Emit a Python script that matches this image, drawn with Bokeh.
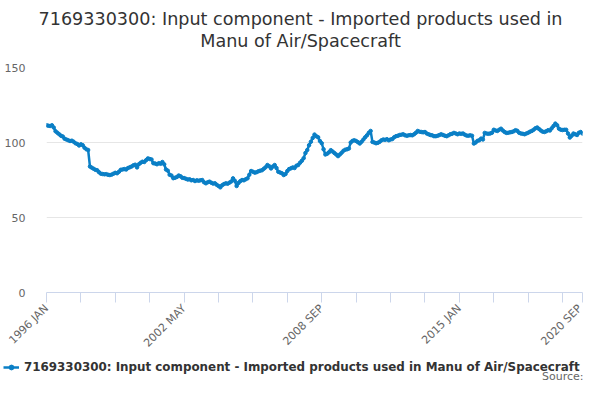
import math
from bokeh.plotting import figure
from bokeh.layouts import column
from bokeh.models import Legend, LegendItem, FixedTicker, Range1d, Label
from bokeh.embed import file_html
from bokeh.resources import INLINE

MONTHS = ["JAN", "FEB", "MAR", "APR", "MAY", "JUN", "JUL", "AUG", "SEP", "OCT", "NOV", "DEC"]

v1996 = [111.5, 111.2, 111.0, 111.5, 110.0, 107.5, 106.5, 105.5, 104.5, 104.0, 102.5, 102.0]
v1997 = [101.5, 101.0, 101.2, 100.5, 99.5, 99.0, 98.0, 98.8, 98.2, 96.5, 95.5, 95.0]
v1998 = [84.0, 83.2, 82.5, 81.8, 81.5, 80.2, 79.2, 79.0, 78.8, 78.9, 78.5, 78.3]
v1999 = [78.6, 79.2, 79.8, 79.5, 80.5, 81.8, 82.0, 82.3, 82.0, 83.0, 83.5, 84.0]
v2000 = [84.8, 85.2, 83.4, 85.5, 86.5, 87.2, 87.0, 88.2, 89.4, 89.0, 88.7, 86.2]
v2001 = [86.0, 85.5, 86.2, 85.8, 87.0, 85.5, 82.0, 81.2, 78.5, 78.0, 76.2, 76.5]
v2002 = [77.0, 78.0, 77.5, 76.5, 76.3, 75.8, 75.3, 75.5, 74.8, 75.0, 74.3, 74.8]
v2003 = [74.5, 74.8, 75.0, 73.5, 72.8, 73.5, 73.9, 73.2, 72.6, 72.8, 71.8, 71.0]
v2004 = [70.1, 71.5, 72.3, 72.8, 72.5, 73.2, 74.0, 76.1, 74.5, 71.0, 73.0, 74.2]
v2005 = [75.0, 74.8, 75.5, 76.1, 78.5, 81.0, 80.5, 79.9, 80.2, 80.8, 81.2, 81.5]
v2006 = [82.5, 83.5, 85.0, 84.2, 82.7, 84.0, 85.0, 83.0, 80.5, 80.0, 79.5, 78.3]
v2007 = [79.0, 81.0, 82.3, 82.8, 83.4, 83.0, 84.5, 85.0, 86.5, 87.8, 89.5, 93.0]
v2008 = [95.0, 98.2, 100.5, 103.0, 105.3, 104.2, 103.5, 101.0, 99.5, 95.5, 92.0, 92.5]
v2009 = [93.5, 94.9, 94.0, 93.0, 92.0, 90.9, 92.0, 93.2, 94.5, 95.2, 95.5, 96.0]
v2010 = [100.0, 101.1, 101.5, 101.0, 100.2, 99.3, 100.5, 102.0, 103.5, 104.8, 106.5, 107.7]
v2011 = [100.4, 100.0, 99.5, 99.8, 100.5, 101.5, 102.0, 101.8, 102.2, 101.5, 102.0, 102.3]
v2012 = [103.5, 104.2, 104.5, 105.0, 105.2, 105.5, 104.8, 104.5, 104.8, 105.0, 104.8, 105.5]
v2013 = [106.5, 107.7, 107.2, 107.0, 106.8, 107.0, 106.0, 105.5, 105.0, 104.8, 104.2, 104.2]
v2014 = [104.5, 105.0, 105.5, 105.0, 104.5, 104.2, 104.8, 105.5, 105.8, 106.4, 106.0, 105.5]
v2015 = [106.0, 105.8, 106.0, 105.2, 104.6, 104.5, 104.8, 104.5, 99.3, 100.0, 101.1, 101.5]
v2016 = [102.6, 102.0, 106.4, 106.0, 105.8, 106.0, 106.5, 108.5, 108.0, 107.7, 108.5, 109.2]
v2017 = [108.0, 107.0, 106.4, 106.5, 106.8, 107.0, 107.5, 108.2, 107.8, 106.5, 106.0, 105.8]
v2018 = [105.5, 106.0, 106.5, 107.2, 107.7, 108.5, 109.5, 110.0, 109.0, 108.0, 107.2, 107.0]
v2019 = [107.5, 108.2, 108.0, 109.5, 111.0, 112.6, 111.5, 109.2, 108.5, 108.3, 108.5, 108.5]
v2020 = [106.0, 103.3, 104.5, 106.0, 105.5, 105.0, 106.5, 107.0, 106.0]

yearly = [v1996, v1997, v1998, v1999, v2000, v2001, v2002, v2003, v2004, v2005,
          v2006, v2007, v2008, v2009, v2010, v2011, v2012, v2013, v2014, v2015,
          v2016, v2017, v2018, v2019, v2020]

values = []
period_labels = []
for k, vals in enumerate(yearly):
    for m, v in enumerate(vals):
        values.append(v)
        period_labels.append(f"{1996 + k} {MONTHS[m]}")
idx = list(range(len(values)))

series_name = "7169330300: Input component - Imported products used in Manu of Air/Spacecraft"
title_line1 = "7169330300: Input component - Imported products used in"
title_line2 = "Manu of Air/Spacecraft"
source_text = "Source:"
y_ticks = [0, 50, 100, 150]
tick_step = 19
label_step = 76

last = len(values) - 1
x_ticks = list(range(0, last, tick_step)) + [last]
label_pos = list(range(0, last, label_step)) + [last]
overrides = {t: (period_labels[t] if t in label_pos else "") for t in x_ticks}

COLOR = "#0a7fc6"
FONT = "DejaVu Sans"
W = 584
H_TOP, H_MAIN, H_BOT = 56, 301, 27


def blank(h):
    f = figure(width=W, height=h, title=None, output_backend="svg", toolbar_location=None,
               x_axis_location=None, y_axis_location=None, min_border=0,
               x_range=Range1d(0, 1), y_range=Range1d(0, 1), frame_align=False)
    f.outline_line_color = None
    f.xgrid.visible = False
    f.ygrid.visible = False
    return f


# ---- title block
top = blank(H_TOP)
top.add_layout(Label(x=300, y=H_TOP - 18, x_units="screen", y_units="screen",
                     text=title_line1, text_align="center", text_baseline="middle",
                     text_font=FONT, text_font_size="17.6px", text_color="#333333"))
top.add_layout(Label(x=300, y=H_TOP - 40, x_units="screen", y_units="screen",
                     text=title_line2, text_align="center", text_baseline="middle",
                     text_font=FONT, text_font_size="17.6px", text_color="#333333"))

# ---- main chart
p = figure(width=W, height=H_MAIN, title=None, output_backend="svg", toolbar_location=None,
           x_range=Range1d(0, last), y_range=Range1d(0, 150), frame_align=False,
           min_border_left=46, min_border_right=2, min_border_top=11, min_border_bottom=64)
p.outline_line_color = None

p.line(idx, values, line_color=COLOR, line_width=2.5)
p.scatter(idx, values, size=3.5, fill_color=COLOR, line_color=COLOR)

p.xgrid.grid_line_color = None
p.ygrid.grid_line_color = "#e6e6e6"
p.ygrid.ticker = FixedTicker(ticks=y_ticks)

p.yaxis.ticker = FixedTicker(ticks=y_ticks)
p.yaxis.axis_line_color = None
p.yaxis.major_tick_line_color = None
p.yaxis.minor_tick_line_color = None
p.yaxis.major_label_text_color = "#666666"
p.yaxis.major_label_text_font = FONT
p.yaxis.major_label_text_font_size = "11px"
p.yaxis.major_label_standoff = 15

p.xaxis.ticker = FixedTicker(ticks=x_ticks)
p.xaxis.major_label_overrides = overrides
p.xaxis.axis_line_color = "#ccd6eb"
p.xaxis.major_tick_line_color = "#ccd6eb"
p.xaxis.major_tick_out = 10
p.xaxis.major_tick_in = 0
p.xaxis.minor_tick_line_color = None
p.xaxis.major_label_orientation = math.pi / 4
p.xaxis.major_label_text_color = "#666666"
p.xaxis.major_label_text_font = FONT
p.xaxis.major_label_text_font_size = "11px"
p.xaxis.major_label_standoff = 4

# ---- legend + source block (series drawn again only to style the legend key; out of view)
bot = blank(H_BOT)
dl = bot.line(idx, values, line_color=COLOR, line_width=2.5)
dc = bot.scatter(idx, values, size=4, fill_color=COLOR, line_color=COLOR)
legend = Legend(items=[LegendItem(label=series_name, renderers=[dl, dc])],
                orientation="horizontal", location=(3, 10),
                border_line_color=None, background_fill_alpha=0,
                label_text_font=FONT, label_text_font_style="bold",
                label_text_font_size="11.9px", label_text_color="#333333",
                glyph_width=16, glyph_height=12, padding=0, margin=0, label_standoff=5,
                label_height=12)
bot.add_layout(legend, "center")
bot.add_layout(Label(x=583, y=8, x_units="screen", y_units="screen",
                     text=source_text, text_align="right", text_baseline="middle",
                     text_font=FONT, text_font_size="11px", text_color="#666666"))

layout = column(top, p, bot, spacing=0)
open("out.html", "w").write(file_html(layout, INLINE))
